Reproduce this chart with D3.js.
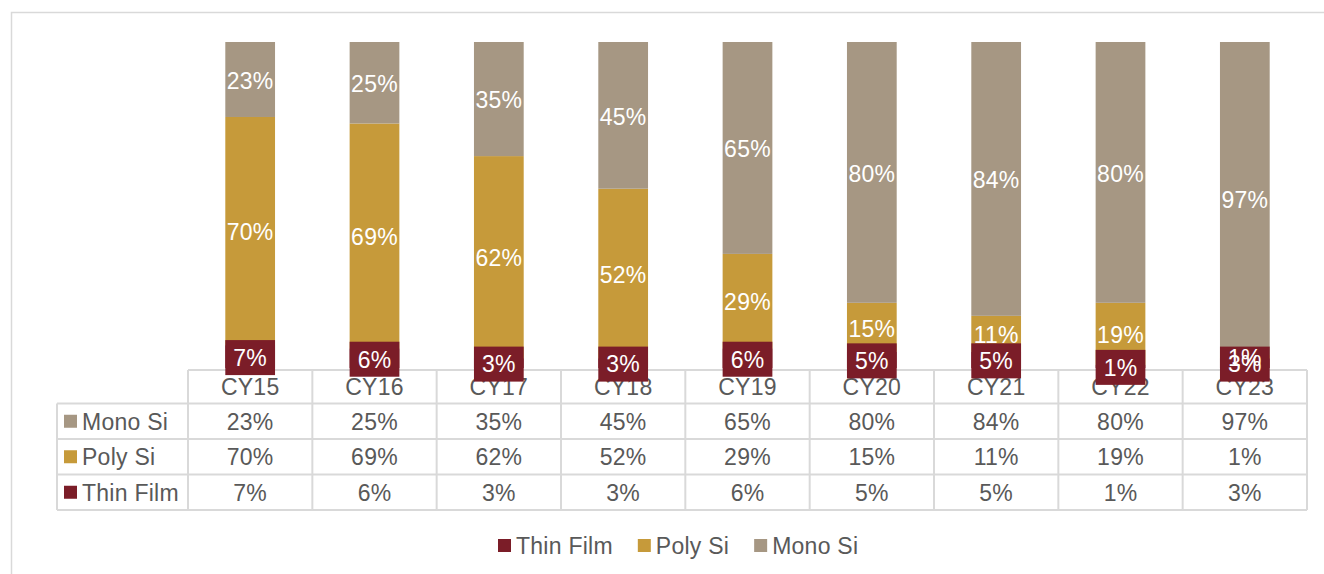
<!DOCTYPE html>
<html>
<head>
<meta charset="utf-8">
<script src="https://cdn.jsdelivr.net/npm/d3@7"></script>
<style>
  html, body { margin: 0; padding: 0; background: #fff; }
  svg { display: block; font-family: Arial, "Liberation Sans", sans-serif; letter-spacing: 0.25px; }
</style>
</head>
<body>
<svg id="chart" width="1324" height="574"></svg>
<script>
// Technology share of module shipments by calendar year (%)
const categories = ["CY15", "CY16", "CY17", "CY18", "CY19", "CY20", "CY21", "CY22", "CY23"];
const monoSi   = [23, 25, 35, 45, 65, 80, 84, 80, 97];
const polySi   = [70, 69, 62, 52, 29, 15, 11, 19, 1];
const thinFilm = [7, 6, 3, 3, 6, 5, 5, 1, 3];

const seriesNames = ["Thin Film", "Poly Si", "Mono Si"];   // stacking order, bottom to top
const tableRows   = ["Mono Si", "Poly Si", "Thin Film"];   // data table order
const colors = { "Thin Film": "#7b1d28", "Poly Si": "#c69a3a", "Mono Si": "#a69783" };
const valuesOf = { "Thin Film": thinFilm, "Poly Si": polySi, "Mono Si": monoSi };

const rows = categories.map((c, i) => ({
  cat: c, "Thin Film": thinFilm[i], "Poly Si": polySi[i], "Mono Si": monoSi[i]
}));

const svg = d3.select("#chart");
const FONT = 23;
const textColor = "#595959";
const gridColor = "#d9d9d9";

// outer chart frame
svg.append("rect")
  .attr("x", 11.5).attr("y", 12.5).attr("width", 1330).attr("height", 580)
  .attr("fill", "none").attr("stroke", gridColor).attr("stroke-width", 1.5);

const left = 188, right = 1307;
const plotTop = 42, plotBottom = 368;

const xCol = d3.scaleBand().domain(categories).range([left, right]).padding(0);
const xBar = d3.scaleBand().domain(categories).range([left, right])
  .paddingInner(0.6).paddingOuter(0.3);
const y = d3.scaleLinear().domain([0, 100]).range([plotBottom, plotTop]).clamp(true);

// ---- data table ----
const headTop = 370, headBottom = 403.5, rowH = 35.5, tableLeft = 57;
const rowTops = tableRows.map((_, i) => headBottom + i * rowH);
const tableBottom = headBottom + tableRows.length * rowH;

const grid = svg.append("g").attr("stroke", gridColor).attr("stroke-width", 2);
grid.append("line").attr("x1", left).attr("x2", right).attr("y1", headTop).attr("y2", headTop);
[...rowTops, tableBottom].forEach(yy =>
  grid.append("line").attr("x1", tableLeft).attr("x2", right).attr("y1", yy).attr("y2", yy));
grid.append("line").attr("x1", tableLeft).attr("x2", tableLeft).attr("y1", headBottom).attr("y2", tableBottom);
categories.forEach(c =>
  grid.append("line").attr("x1", xCol(c)).attr("x2", xCol(c)).attr("y1", headTop).attr("y2", tableBottom));
grid.append("line").attr("x1", right).attr("x2", right).attr("y1", headTop).attr("y2", tableBottom);

const tbl = svg.append("g").attr("font-size", FONT).attr("fill", textColor);
tbl.selectAll("text.head").data(categories).join("text")
  .attr("class", "head")
  .attr("x", d => xCol(d) + xCol.bandwidth() / 2)
  .attr("y", (headTop + headBottom) / 2)
  .attr("dy", "0.36em").attr("text-anchor", "middle")
  .text(d => d);

tableRows.forEach((name, r) => {
  const cy = rowTops[r] + rowH / 2;
  tbl.append("rect").attr("x", 64).attr("y", cy - 6.5).attr("width", 13).attr("height", 13)
    .attr("fill", colors[name]);
  tbl.append("text").attr("x", 82).attr("y", cy).attr("dy", "0.36em").text(name);
  tbl.selectAll(null).data(categories).join("text")
    .attr("x", d => xCol(d) + xCol.bandwidth() / 2)
    .attr("y", cy).attr("dy", "0.36em").attr("text-anchor", "middle")
    .text((d, i) => valuesOf[name][i] + "%");
});

// ---- stacked bars ----
const stack = d3.stack().keys(seriesNames)(rows);

const layers = svg.append("g").selectAll("g").data(stack).join("g")
  .attr("fill", d => colors[d.key]);
layers.selectAll("rect").data(d => d).join("rect")
  .attr("x", d => xBar(d.data.cat))
  .attr("width", xBar.bandwidth())
  .attr("y", d => y(d[1]))
  .attr("height", d => y(d[0]) - y(d[1]));

// ---- data labels ----
const labels = svg.append("g").attr("font-size", FONT).attr("fill", "#fff").attr("text-anchor", "middle");
stack.forEach(layer => {
  const g = labels.append("g");
  layer.forEach(d => {
    const cx = xBar(d.data.cat) + xBar.bandwidth() / 2;
    const cy = (y(d[0]) + y(d[1])) / 2 + 1;
    if (layer.key === "Thin Film") {
      g.append("rect").attr("x", xBar(d.data.cat)).attr("width", xBar.bandwidth())
        .attr("y", cy - 17.5).attr("height", 35).attr("fill", colors["Thin Film"]);
    }
    g.append("text").attr("x", cx).attr("y", cy).attr("dy", "0.36em")
      .text(d.data[layer.key] + "%");
  });
});

// ---- legend ----
const legend = svg.append("g").attr("font-size", FONT).attr("fill", textColor);
let lx = 498;
seriesNames.forEach(name => {
  legend.append("rect").attr("x", lx).attr("y", 539).attr("width", 13).attr("height", 13)
    .attr("fill", colors[name]);
  const t = legend.append("text").attr("x", lx + 18).attr("y", 545.5).attr("dy", "0.36em").text(name);
  lx += 18 + t.node().getComputedTextLength() + 25;
});
</script>
</body>
</html>
